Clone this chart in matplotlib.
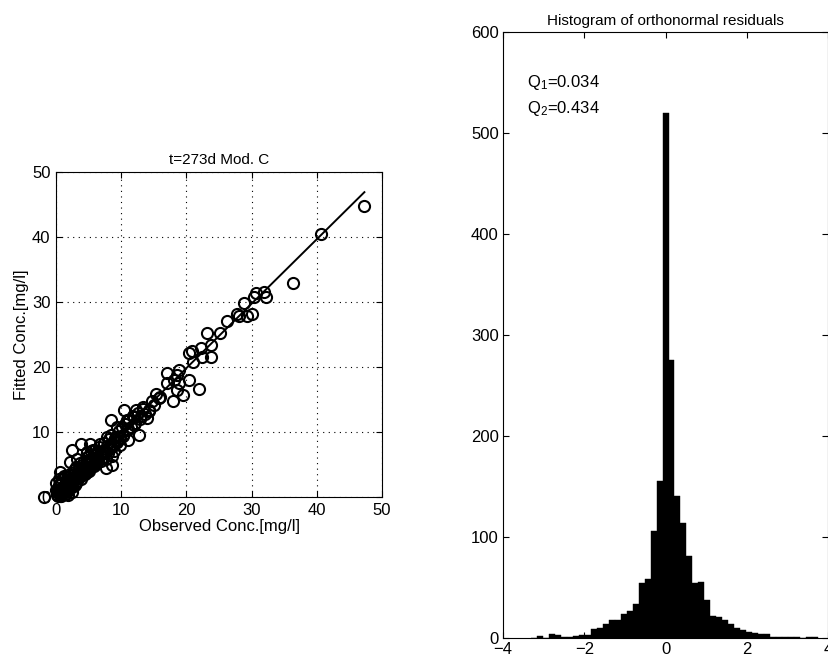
import numpy as np
import matplotlib
matplotlib.use("Agg")
from matplotlib import pyplot as plt

plt.rcParams['font.family'] = ['Liberation Sans', 'DejaVu Sans']
plt.rcParams['mathtext.fontset'] = 'custom'
plt.rcParams['mathtext.rm'] = 'Liberation Sans'
plt.rcParams['mathtext.it'] = 'Liberation Sans:italic'
plt.rcParams['font.size'] = 12

# observed vs fitted concentrations (mg/l)
obs = [47.3, 40.6, 36.4, 32.2, 31.9, 30.6, 30.4, 30.1, 29.3, 28.8, 28.0, 27.8,
       26.3, 25.1, 23.1, 23.8, 23.8, 22.4, 22.2, 21.0, 20.9, 20.4, 21.9, 20.4,
       19.5, 18.8, 18.8, 18.6, 18.1, 17.9, 17.0, 17.0, 18.6, 15.4, 15.8, 14.7,
       14.2, 13.9, 13.4, 12.2, 11.9, 10.4, 10.9, 8.4, 9.3, 12.7, 11.1, 9.3,
       9.8, 8.6, 8.6, 7.7, 7.8, 6.8, 5.2, 3.9, 2.4, 2.2, 3.2, 4.7, 5.7, 6.3,
       5.0, 4.2, 3.7, 2.9, 1.9, 1.4, 0.6, 0.4, 0.0, 0.0, 0.9, 1.9, -1.9,
       0.1, 0.2, 0.3, 0.4, 0.5, 0.6, 0.7, 0.8, 0.9, 1.0, 1.1, 1.2, 1.3, 1.4,
       1.5, 1.6, 1.7, 1.8, 1.9, 2.0, 2.1, 2.2, 2.3, 2.4, 2.5, 2.6, 2.7, 2.8,
       2.9, 3.0, 3.1, 3.2, 3.3, 3.4, 3.5, 3.6, 3.7, 3.8, 3.9, 4.0, 4.1, 4.3,
       4.4, 4.5, 4.6, 4.7, 4.8, 4.9, 5.0, 5.1, 5.2, 5.3, 5.4, 5.5, 5.6, 5.8,
       5.9, 6.0, 6.1, 6.2, 6.3, 6.5, 6.6, 6.7, 6.9, 7.0, 7.2, 7.3, 7.5, 7.6,
       7.8, 8.0, 8.1, 8.3, 8.5, 8.7, 8.9, 9.0, 9.3, 9.6, 9.8, 10.1, 10.3,
       10.6, 10.9, 11.2, 11.5, 11.8, 12.1, 12.5, 12.9, 13.3, 13.7,
       0.3, 0.6, 1.0, 1.3, 1.7, 2.0, 2.4, 2.7, 3.1, 3.5, 3.9, 4.3, 4.8, 5.3,
       5.8, 6.4, 7.0, 7.6, 8.2, 8.8, 9.5, 10.2, 11.0, 12.0, 13.0, 14.2,
       15.0, 16.0]
fit = [44.8, 40.4, 32.9, 30.8, 31.5, 31.4, 30.8, 28.2, 27.8, 29.8, 27.8, 28.2,
       27.1, 25.2, 25.3, 23.4, 21.6, 21.6, 22.9, 20.8, 22.4, 22.1, 16.6, 18.0,
       15.7, 17.5, 19.5, 18.8, 18.0, 14.8, 19.0, 17.5, 16.5, 15.9, 15.2, 14.7,
       13.4, 12.1, 13.9, 13.4, 12.3, 13.4, 11.8, 11.9, 10.8, 9.5, 8.7, 9.3,
       8.0, 6.3, 4.9, 4.4, 9.3, 8.2, 8.2, 8.2, 7.2, 5.4, 5.9, 6.9, 7.2, 6.2,
       5.1, 4.4, 3.6, 2.8, 2.6, 3.1, 3.9, 2.8, 2.1, 1.0, 0.5, 0.3, 0.0,
       0.3, 1.1, 0.1, 1.8, 0.6, 2.2, 1.3, 0.2, 2.7, 1.6, 0.8, 3.3, 2.0, 1.1,
       0.4, 2.6, 1.7, 3.0, 1.2, 2.3, 3.6, 1.8, 2.9, 0.7, 2.1, 3.4, 2.6, 4.1,
       1.9, 3.1, 4.6, 2.5, 3.7, 2.9, 4.3, 3.3, 5.2, 2.8, 4.0, 4.9, 3.5, 5.6,
       4.2, 3.6, 5.0, 6.1, 4.4, 5.4, 4.0, 6.3, 5.1, 4.6, 7.0, 5.7, 4.9, 6.4,
       5.3, 7.3, 6.0, 5.0, 6.8, 5.8, 7.7, 6.4, 5.6, 7.1, 6.2, 8.3, 7.0, 5.9,
       7.8, 6.8, 8.9, 7.5, 9.6, 8.2, 7.1, 9.1, 8.5, 10.2, 9.0, 10.8, 9.6,
       11.3, 10.3, 11.9, 10.8, 12.5, 11.4, 12.9, 12.0, 13.6, 12.8,
       0.9, 0.2, 1.5, 0.5, 1.1, 1.4, 1.6, 3.0, 2.2, 3.8, 3.3, 4.7, 3.9, 5.9,
       4.8, 5.5, 6.6, 6.9, 7.4, 7.9, 8.8, 9.4, 10.5, 11.1, 12.4, 13.2,
       14.1, 15.4]
line_x = [0.0, 47.3]
line_y = [0.0, 46.9]

# histogram of orthonormal residuals
bin_width = 0.147
first_edge = -3.307
counts = [0, 2, 0, 4, 3, 1, 1, 2, 3, 3, 9, 10, 14, 18, 18, 24, 27, 34, 54,
          58, 106, 155, 520, 275, 141, 114, 81, 54, 55, 38, 22, 21, 18, 14,
          10, 8, 6, 5, 4, 4, 1, 1, 1, 1, 1, 0, 1, 1]
q1 = 0.034
q2 = 0.434

fig = plt.figure(figsize=(8.29, 6.68), dpi=100)

ax0 = fig.add_axes([0.0676, 0.256, 0.3932, 0.4865])
ax0.plot(line_x, line_y, color='black', lw=1.4)
ax0.plot(obs, fit, 'o', mfc='none', mec='black', ms=8, mew=1.5, clip_on=False)
ax0.set_xlim(0, 50)
ax0.set_ylim(0, 50)
ax0.set_xticks(range(0, 51, 10))
ax0.set_yticks(range(0, 51, 10))
ax0.grid(True, linestyle=(0, (1, 4)), color='black', lw=0.8)
ax0.tick_params(direction='in', top=True, right=True, length=4, pad=4)
ax0.set_title('t=273d Mod. C', fontsize=11, pad=6)
ax0.set_xlabel('Observed Conc.[mg/l]', labelpad=1)
ax0.set_ylabel('Fitted Conc.[mg/l]', labelpad=2)

ax1 = fig.add_axes([0.6068, 0.0449, 0.392, 0.907])
edges = first_edge + bin_width * np.arange(len(counts))
ax1.bar(edges, counts, width=bin_width, align='edge', color='black',
        edgecolor='black', lw=0.3)
ax1.set_xlim(-4, 4)
ax1.set_ylim(0, 600)
ax1.set_xticks([-4, -2, 0, 2, 4])
ax1.set_xticklabels(['\u22124', '\u22122', '0', '2', '4'])
ax1.set_yticks(range(0, 601, 100))
ax1.tick_params(direction='in', top=True, right=True, length=4, pad=3)
ax1.set_title('Histogram of orthonormal residuals', fontsize=11, pad=5)
ax1.text(-3.4, 550, r'Q$_1$=%.3f' % q1, va='center', ha='left')
ax1.text(-3.4, 524, r'Q$_2$=%.3f' % q2, va='center', ha='left')

fig.savefig('out.png', dpi=100)
